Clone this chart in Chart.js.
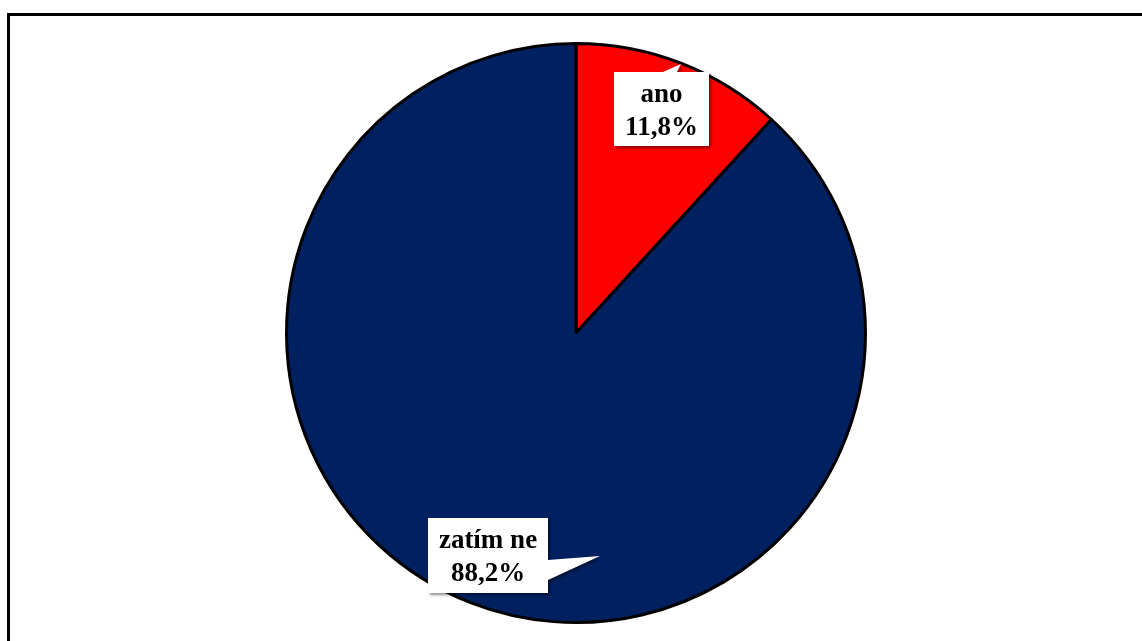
<!DOCTYPE html>
<html>
<head>
<meta charset="utf-8">
<script src="https://cdn.jsdelivr.net/npm/chart.js@4.4.0/dist/chart.umd.min.js"></script>
<style>
  html, body { margin: 0; padding: 0; background: #fff; overflow: hidden; }
  #wrap { position: relative; width: 1142px; height: 641px; }
  #frame { position: absolute; left: 7px; top: 13px; width: 1200px; height: 700px; border: 3px solid #000; box-sizing: border-box; }
  #myChart { position: absolute; left: 0; top: 0; }
</style>
</head>
<body>
<div id="wrap">
  <div id="frame"></div>
  <canvas id="myChart" width="1142" height="641"></canvas>
</div>
<script>
const kategorie = ['ano', 'zatím ne'];
const hodnoty = [11.8, 88.2];
const barvy = ['#FF0000', '#002060'];

// popisky ve tvaru bublin (offset od středu koláče)
const bubliny = [
    { box: [38, -261, 95, 74], tip: [105, -269], base: [96, 121], side: 'top' },
    { box: [-148, 185, 120, 75], tip: [24, 223], base: [227, 247], side: 'right' }
];

function formatuj(v) {
    return v.toFixed(1).replace('.', ',') + '%';
}

const popiskyPlugin = {
    id: 'popisky',
    afterDraw(chart) {
        const ctx = chart.ctx;
        const meta = chart.getDatasetMeta(0);
        const cx = meta.data[0].x;
        const cy = meta.data[0].y;
        bubliny.forEach((b, i) => {
            const x = cx + b.box[0], y = cy + b.box[1], w = b.box[2], h = b.box[3];
            ctx.save();
            ctx.beginPath();
            ctx.moveTo(x, y);
            if (b.side === 'top') {
                ctx.lineTo(cx + b.base[0] - 9, y);
                ctx.lineTo(cx + b.tip[0], cy + b.tip[1]);
                ctx.lineTo(cx + b.base[1] - 20, y);
                ctx.lineTo(x + w, y);
                ctx.lineTo(x + w, y + h);
            } else {
                ctx.lineTo(x + w, y);
                ctx.lineTo(x + w, cy + b.base[0]);
                ctx.lineTo(cx + b.tip[0], cy + b.tip[1]);
                ctx.lineTo(x + w, cy + b.base[1]);
                ctx.lineTo(x + w, y + h);
            }
            ctx.lineTo(x, y + h);
            ctx.closePath();
            ctx.shadowColor = 'rgba(0,0,0,0.45)';
            ctx.shadowBlur = 3;
            ctx.shadowOffsetX = 2;
            ctx.shadowOffsetY = 2;
            ctx.fillStyle = '#fff';
            ctx.fill();
            ctx.restore();

            ctx.save();
            ctx.fillStyle = '#000';
            ctx.font = 'bold 27px "Liberation Serif", "Times New Roman", serif';
            ctx.textAlign = 'center';
            ctx.textBaseline = 'alphabetic';
            ctx.fillText(kategorie[i], x + w / 2, y + 30);
            ctx.fillText(formatuj(hodnoty[i]), x + w / 2, y + 63);
            ctx.restore();
        });
    }
};

const ctx = document.getElementById('myChart').getContext('2d');
new Chart(ctx, {
    type: 'pie',
    data: {
        labels: kategorie,
        datasets: [{
            data: hodnoty,
            backgroundColor: barvy,
            borderColor: '#000',
            borderWidth: 3
        }]
    },
    options: {
        responsive: false,
        animation: false,
        layout: { padding: { left: 10, right: 0, top: 42, bottom: 17 } },
        plugins: {
            legend: { display: false },
            tooltip: { enabled: false }
        }
    },
    plugins: [popiskyPlugin]
});
</script>
</body>
</html>
